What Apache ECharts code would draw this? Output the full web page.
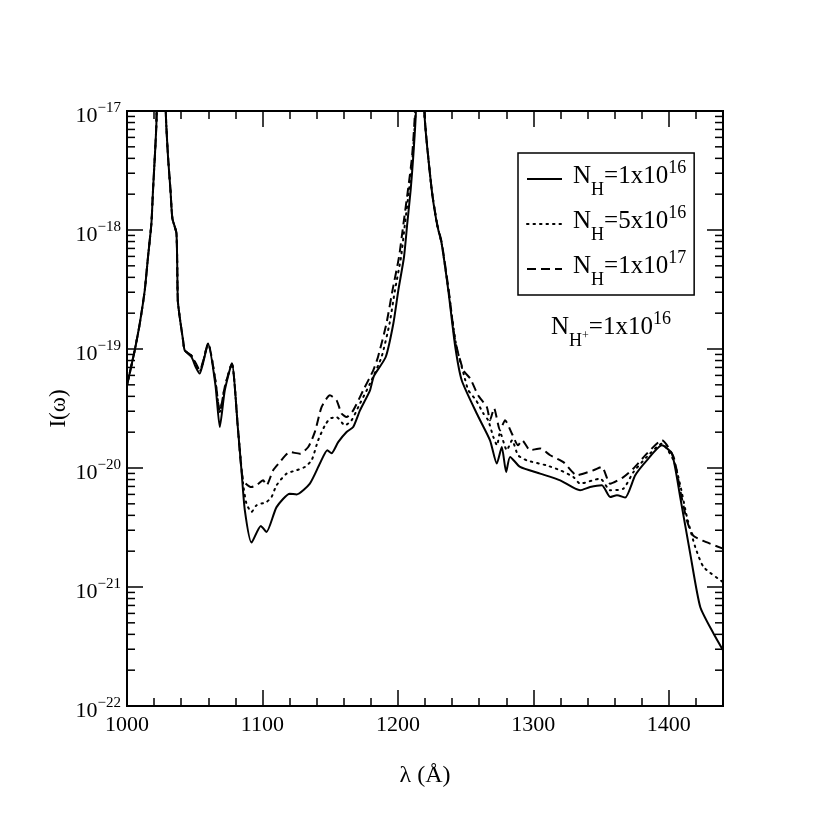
<!DOCTYPE html>
<html><head><meta charset="utf-8">
<script src="https://cdn.jsdelivr.net/npm/echarts@6/dist/echarts.min.js"></script>
<style>html,body{margin:0;padding:0;background:#fff}#c{width:834px;height:834px}</style>
</head><body><div id="c"></div>
<script>
// ---- data ----
const seriesNames = ['N_H=1x10^16', 'N_H=5x10^16', 'N_H=1x10^17'];
const legendMant = ['1x10', '5x10', '1x10'];
const legendExp = ['16', '16', '17'];

const wl1 = [1000,1005.7,1009.4,1013.1,1015.5,1018.0,1019.2,1021.7,1025.5,1028.6,1030.3,1032.1,1033.5,1036.5,1037.5,1038.9,1041.4,1042.6,1047.6,1050.8,1053.7,1059.9,1065.3,1068.5,1072.2,1077.4,1082.0,1084.5,1087.0,1091.9,1098.8,1103.0,1110.4,1120.2,1125.2,1135.0,1142.4,1147.9,1151.0,1155.9,1162.1,1167.0,1172.0,1179.4,1182.2,1191.0,1196.6,1200.3,1204.5,1206.9,1209.4,1211.3,1213.3,1216.0,1219.5,1225.0,1229.0,1232.3,1237.2,1242.2,1247.1,1258.2,1268.0,1273.0,1276.7,1279.9,1282.8,1290.2,1305.0,1319.8,1334.5,1341.9,1350.6,1356.7,1361.7,1367.8,1375.2,1383.8,1394.9,1402.3,1408.4,1415.8,1423.2,1433.0,1440];
const int1 = [4.95e-20,9.75e-20,1.63e-19,3.11e-19,5.93e-19,1.13e-18,2.16e-18,7.84e-18,1e-15,1e-17,4.1e-18,2.16e-18,1.25e-18,9.38e-19,2.57e-19,1.86e-19,1.18e-19,9.75e-20,8.57e-20,7.02e-20,6.21e-20,1.11e-19,4.96e-20,2.21e-20,4.5e-20,7.54e-20,2.07e-20,9.57e-21,4.4e-21,2.36e-21,3.26e-21,2.9e-21,4.69e-21,6.08e-21,6.0e-21,7.4e-21,1.09e-20,1.41e-20,1.33e-20,1.65e-20,2.01e-20,2.21e-20,3.05e-20,4.5e-20,5.9e-20,8.57e-20,1.63e-19,3.11e-19,5.93e-19,1.13e-18,2.16e-18,4.1e-18,1e-17,1e-15,1e-17,2.16e-18,1.1e-18,7.69e-19,3.11e-19,1.07e-19,5.46e-20,2.87e-20,1.71e-20,1.09e-20,1.5e-20,9.26e-21,1.24e-20,1.02e-20,8.97e-21,7.88e-21,6.5e-21,6.92e-21,7.16e-21,5.7e-21,5.9e-21,5.64e-21,8.69e-21,1.16e-20,1.55e-20,1.32e-20,5.7e-21,1.91e-21,6.79e-22,4.06e-22,2.94e-22];

const wl2 = [1000,1005.7,1009.4,1013.1,1015.5,1018.0,1019.2,1021.7,1025.5,1028.6,1030.3,1032.1,1033.5,1036.5,1037.5,1038.9,1041.4,1042.6,1047.6,1050.8,1053.7,1059.9,1065.3,1068.5,1072.2,1077.4,1082.0,1085.7,1088.2,1091.9,1095.6,1103.0,1106.7,1110.4,1117.8,1125.2,1131.3,1136.3,1141.1,1146.1,1149.8,1154.7,1160.9,1165.8,1172.0,1179.4,1187.9,1193.8,1197.8,1202.3,1205.2,1208.2,1210.8,1213.0,1216.0,1219.5,1225.0,1229.0,1232.3,1237.2,1242.9,1248.8,1252.0,1257.7,1263.1,1266.6,1270.5,1273.2,1275.4,1280.4,1284.3,1288.7,1295.1,1309.9,1319.8,1329.6,1334.5,1349.3,1356.7,1366.5,1373.9,1383.8,1394.9,1403.5,1408.4,1413.4,1419.5,1425.7,1440];
const int2 = [4.95e-20,9.75e-20,1.63e-19,3.11e-19,5.93e-19,1.13e-18,2.16e-18,7.84e-18,1e-15,1e-17,4.1e-18,2.16e-18,1.25e-18,9.38e-19,2.57e-19,1.86e-19,1.18e-19,9.75e-20,8.8e-20,7.4e-20,6.5e-20,1.11e-19,5.4e-20,2.96e-20,4.8e-20,7.54e-20,2.07e-20,7.39e-21,5.02e-21,4.27e-21,4.86e-21,5.18e-21,5.7e-21,7.16e-21,8.97e-21,9.57e-21,1.02e-20,1.16e-20,1.71e-20,2.28e-20,2.6e-20,2.68e-20,2.28e-20,2.52e-20,3.48e-20,5.12e-20,8.57e-20,1.63e-19,3.11e-19,5.93e-19,1.13e-18,2.16e-18,4.1e-18,1e-17,1e-15,1e-17,2.16e-18,1.1e-18,7.69e-19,3.2e-19,1.1e-19,6.01e-20,4.5e-20,3.71e-20,2.87e-20,2.52e-20,1.82e-20,1.55e-20,2.0e-20,1.41e-20,1.71e-20,1.28e-20,1.16e-20,1.05e-20,9.57e-21,8.39e-21,7.39e-21,8.15e-21,6.5e-21,6.71e-21,9.26e-21,1.24e-20,1.6e-20,1.16e-20,7.2e-21,3.87e-21,2.17e-21,1.47e-21,1.1e-21];

const wl3 = [1000,1005.7,1009.4,1013.1,1015.5,1018.0,1019.2,1021.7,1025.5,1028.6,1030.3,1032.1,1033.5,1036.5,1037.5,1038.9,1041.4,1042.6,1047.6,1050.8,1053.7,1059.9,1065.3,1068.5,1072.2,1077.4,1082.0,1085.7,1091.9,1095.6,1100.5,1103.0,1107.9,1112.8,1120.2,1127.6,1133.8,1138.7,1143.7,1149.8,1154.7,1158.4,1162.1,1167.0,1174.4,1181.8,1185.3,1191.5,1196.0,1200.8,1204.1,1207.4,1210.4,1212.6,1216.0,1219.5,1225.0,1229.0,1232.3,1237.2,1242.2,1248.3,1253.3,1259.2,1265.6,1268.0,1271.0,1275.4,1279.1,1284.1,1288.7,1291.7,1297.6,1305.0,1312.4,1322.2,1332.1,1344.4,1350.6,1356.7,1366.5,1373.9,1383.8,1394.9,1403.5,1408.4,1413.4,1418.0,1425.0,1440];
const int3 = [4.95e-20,9.75e-20,1.63e-19,3.11e-19,5.93e-19,1.13e-18,2.16e-18,7.84e-18,1e-15,1e-17,4.1e-18,2.16e-18,1.25e-18,9.38e-19,2.57e-19,1.86e-19,1.18e-19,9.75e-20,8.8e-20,7.6e-20,6.6e-20,1.11e-19,5.4e-20,2.96e-20,4.8e-20,7.54e-20,2.07e-20,7.88e-21,6.92e-21,7.16e-21,7.88e-21,7.16e-21,9.57e-21,1.12e-20,1.36e-20,1.32e-20,1.5e-20,2.01e-20,3.26e-20,4.08e-20,3.71e-20,2.87e-20,2.68e-20,3.05e-20,4.5e-20,6.62e-20,8.57e-20,1.63e-19,3.11e-19,5.93e-19,1.13e-18,2.16e-18,4.1e-18,1e-17,1e-15,1e-17,2.16e-18,1.12e-18,7.9e-19,3.3e-19,1.19e-19,6.62e-20,5.67e-20,4.08e-20,3.26e-20,2.52e-20,3.18e-20,2.07e-20,2.52e-20,1.95e-20,1.55e-20,1.71e-20,1.41e-20,1.46e-20,1.28e-20,1.12e-20,8.69e-21,9.57e-21,1.02e-20,7.39e-21,8.39e-21,9.9e-21,1.32e-20,1.71e-20,1.24e-20,6.5e-21,3.6e-21,2.7e-21,2.45e-21,2.1e-21];

// axis ticks
const xMin = 1000, xMax = 1440, xStep = 100;
const yMax = 1e-17;                       // bottom (1e-22) comes from the log axis' own nice extent
const yMajorExp = [-22, -21, -20, -19, -18, -17];
const yMinorMult = [2, 3, 4, 5, 6, 7, 8, 9];
const yDecades = [-22, -21, -20, -19, -18];

// ---- chart ----
const F = 'Liberation Serif';
const pairs = (xs, ys) => xs.map((x, i) => [x, ys[i]]);
const yMinorVals = [];
yDecades.forEach(d => yMinorMult.forEach(m => yMinorVals.push(Number(m + 'e' + d))));
const yMajorVals = yMajorExp.map(e => Number('1e' + e));

const LH = 40;
const supRich = {
  n0:  {fontFamily: F, fontSize: 25, lineHeight: LH, padding: [4.5, 0, 0, 6], verticalAlign: 'top', color: '#000'},
  n:   {fontFamily: F, fontSize: 25, lineHeight: LH, padding: [4.5, 0, 0, 0], verticalAlign: 'top', color: '#000'},
  sub: {fontFamily: F, fontSize: 18, lineHeight: LH, padding: [22, 0, 0, 0], verticalAlign: 'top', color: '#000'},
  plus:{fontFamily: F, fontSize: 12, lineHeight: LH, padding: [20, 0, 0, 0], verticalAlign: 'top', color: '#000'},
  sup: {fontFamily: F, fontSize: 18, lineHeight: LH, padding: [0, 0, 0, 0], verticalAlign: 'top', color: '#000'}
};

const axisLineStyle = {color: '#000', width: 2};
const tickStyle = {color: '#000', width: 1.5};

const xAxisBase = {
  type: 'value', min: xMin, max: xMax, interval: xStep,
  axisLine: {show: true, onZero: false, lineStyle: axisLineStyle},
  axisTick: {show: true, inside: true, length: 16, lineStyle: tickStyle},
  minorTick: {show: true, splitNumber: 5, length: 8, lineStyle: tickStyle},
  splitLine: {show: false}
};

const tickSeries = (vals, len, leftSide) => ({
  type: 'custom', silent: true, z: 6, xAxisIndex: 0, yAxisIndex: 0,
  data: vals.map(v => [xMin, v]),
  renderItem: (params, api) => {
    const v = api.value(1);
    const l = api.coord([xMin, v]);
    const r = api.coord([xMax, v]);
    const kids = [{type: 'line', shape: {x1: r[0] - len, y1: r[1], x2: r[0], y2: r[1]}, style: {stroke: '#000', lineWidth: 1.5}}];
    if (leftSide) kids.push({type: 'line', shape: {x1: l[0], y1: l[1], x2: l[0] + len, y2: l[1]}, style: {stroke: '#000', lineWidth: 1.5}});
    return {type: 'group', children: kids};
  }
});

const chart = echarts.init(document.getElementById('c'), null, {renderer: 'canvas'});
chart.setOption({
  animation: false,
  backgroundColor: '#fff',
  grid: {left: 127, right: 111, top: 111, bottom: 128, show: true, borderColor: '#000', borderWidth: 2, backgroundColor: 'transparent'},
  xAxis: [
    Object.assign({}, xAxisBase, {
      position: 'bottom',
      name: 'λ (Å)', nameLocation: 'middle', nameGap: 58,
      nameTextStyle: {fontFamily: F, fontSize: 24, color: '#000'},
      axisLabel: {show: true, margin: 8, fontFamily: F, fontSize: 22, color: '#000', showMaxLabel: false,
                  formatter: v => String(v)}
    }),
    Object.assign({}, xAxisBase, {position: 'top', axisLabel: {show: false}})
  ],
  yAxis: [{
    type: 'log', logBase: 10, max: yMax, position: 'left',
    axisLine: {show: true, onZero: false, lineStyle: axisLineStyle},
    axisTick: {show: true, inside: true, length: 16, lineStyle: tickStyle},
    splitLine: {show: false},
    name: 'I(ω)', nameLocation: 'middle', nameGap: 57, nameMoveOverlap: false,
    nameTextStyle: {fontFamily: F, fontSize: 23, color: '#000'},
    axisLabel: {
      show: true, margin: 6, color: '#000',
      formatter: v => {
        const e = Math.round(Math.log10(v));
        return '{b|10}{s|−' + (-e) + '}';
      },
      rich: {
        b: {fontFamily: F, fontSize: 22, lineHeight: 27.5, padding: [7.5, 0, 0, 0], verticalAlign: 'top', color: '#000'},
        s: {fontFamily: F, fontSize: 15, lineHeight: 15, padding: [3, 0, 0, 0], verticalAlign: 'top', color: '#000'}
      }
    }
  }],
  legend: {
    data: seriesNames,
    orient: 'vertical', left: 518, top: 153,
    itemWidth: 35, itemHeight: 14, itemGap: 5,
    padding: [6, 8, 6, 8],
    borderColor: '#000', borderWidth: 1.5, backgroundColor: '#fff',
    selectedMode: false,
    itemStyle: {opacity: 0},
    textStyle: {color: '#000', fontFamily: F, fontSize: 25, rich: supRich},
    formatter: name => {
      const i = seriesNames.indexOf(name);
      return '{n0|N}{sub|H}{n|=' + legendMant[i] + '}{sup|' + legendExp[i] + '}';
    }
  },
  graphic: [{
    type: 'text', left: 551, top: 310, z: 10,
    style: {text: '{n|N}{sub|H}{plus|+}{n|=1x10}{sup|16}', rich: supRich, fill: '#000'}
  }],
  series: [
    {name: seriesNames[0], type: 'line', data: pairs(wl1, int1), symbol: 'none', smooth: 0.2, z: 5,
     lineStyle: {color: '#000', width: 2, type: 'solid'}, itemStyle: {color: '#000'}},
    {name: seriesNames[1], type: 'line', data: pairs(wl2, int2), symbol: 'none', smooth: 0.2, z: 3,
     lineStyle: {color: '#000', width: 2, type: [1.5, 5], cap: 'round'}, itemStyle: {color: '#000'}},
    {name: seriesNames[2], type: 'line', data: pairs(wl3, int3), symbol: 'none', smooth: 0.2, z: 4,
     lineStyle: {color: '#000', width: 2, type: [9, 5]}, itemStyle: {color: '#000'}},
    tickSeries(yMinorVals, 8, true),
    tickSeries(yMajorVals, 16, false)
  ]
});
</script></body></html>
